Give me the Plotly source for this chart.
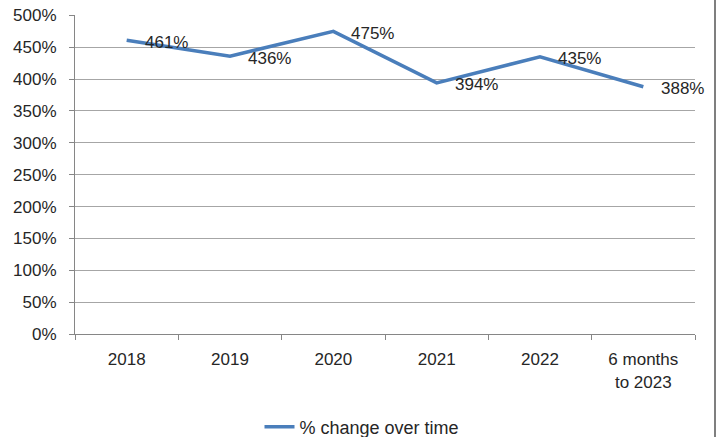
import plotly.graph_objects as go

categories = ["2018", "2019", "2020", "2021", "2022", "6 months<br>to 2023"]
values = [461, 436, 475, 394, 435, 388]
value_labels = ["461%", "436%", "475%", "394%", "435%", "388%"]
y_tick_values = [0, 50, 100, 150, 200, 250, 300, 350, 400, 450, 500]
y_tick_labels = ["0%", "50%", "100%", "150%", "200%", "250%", "300%",
                 "350%", "400%", "450%", "500%"]
series_name = "% change over time"

FONT = "Liberation Sans"
TXT = "#262626"
FS = 17
W, H = 719, 437
ML, MR, MT, MB = 75, 24, 15, 103
PW = W - ML - MR
PH = H - MT - MB

fig = go.Figure()
fig.add_trace(go.Scatter(
    x=categories, y=values, mode="lines", name=series_name,
    line=dict(color="#4a7ebb", width=3.5),
))

for i, (v, t) in enumerate(zip(values, value_labels)):
    fig.add_annotation(x=i, y=v, text=t, showarrow=False, xanchor="left",
                       yanchor="middle", xshift=16, yshift=-2,
                       font=dict(family=FONT, size=FS, color=TXT))

border_x = (715 - ML) / PW
fig.add_shape(type="line", xref="paper", yref="paper",
              x0=border_x, x1=border_x, y0=-MB / PH, y1=1 + MT / PH,
              line=dict(color="#7f7f7f", width=2))

fig.update_layout(
    width=W, height=H,
    margin=dict(l=ML, r=MR, t=MT, b=MB, autoexpand=False),
    paper_bgcolor="white", plot_bgcolor="white",
    font=dict(family=FONT, size=FS, color=TXT),
    showlegend=True,
    legend=dict(orientation="h", x=(362 - ML) / PW, xanchor="center",
                y=-93 / PH, yanchor="middle",
                font=dict(family=FONT, size=18, color=TXT)),
    xaxis=dict(type="category", showgrid=False, showline=True,
               linecolor="#868686", linewidth=1, ticks="outside",
               tickson="boundaries", ticklen=5, tickcolor="#868686",
               range=[-0.5, 5.5], automargin=False, ticklabelstandoff=10),
    yaxis=dict(range=[0, 500.6], tickmode="array", tickvals=y_tick_values,
               ticktext=y_tick_labels, showgrid=True,
               gridcolor="#a6a6a6", gridwidth=1, showline=True,
               linecolor="#868686", ticks="outside", ticklen=5,
               tickcolor="#868686", zeroline=False, automargin=False,
               ticklabeloverflow="allow", ticklabelstandoff=9),
)

fig.write_html("out.html", config={"displayModeBar": False},
               post_script="document.body.style.margin='0';")
